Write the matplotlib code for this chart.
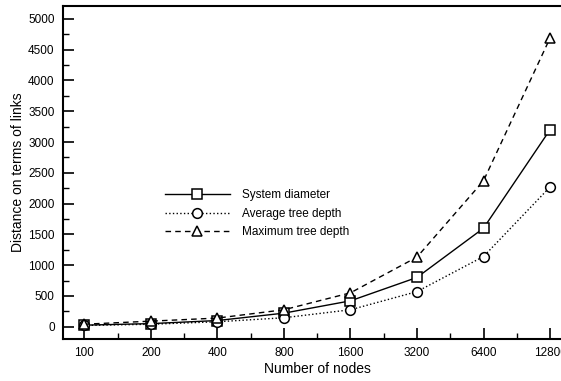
import matplotlib.pyplot as plt
from matplotlib.ticker import MultipleLocator

plt.rcParams['font.family'] = ['Liberation Sans', 'DejaVu Sans']

nodes = ['100', '200', '400', '800', '1600', '3200', '6400', '12800']
system_diameter = [25, 50, 100, 220, 420, 800, 1600, 3200]
avg_tree_depth = [20, 40, 80, 145, 275, 570, 1140, 2270]
max_tree_depth = [40, 90, 140, 275, 550, 1130, 2370, 4690]

fig = plt.figure(figsize=(5.61, 3.81), dpi=100)
ax = fig.add_axes([63 / 561, 42 / 381, (572 - 63) / 561, (339 - 6) / 381])

x = list(range(len(nodes)))
mk = dict(markersize=7, markerfacecolor='white', markeredgecolor='black',
          markeredgewidth=1.1, color='black', linewidth=1.0)
ax.plot(x, system_diameter, linestyle='-', marker='s', label='System diameter', **mk)
ax.plot(x, avg_tree_depth, linestyle=':', marker='o', label='Average tree depth', **mk)
ax.plot(x, max_tree_depth, linestyle=(0, (4, 3)), marker='^', label='Maximum tree depth', **mk)

ax.set_xlim(-0.32, 7.33)
ax.set_ylim(-200, 5210)
ax.set_xticks(x)
ax.set_xticklabels(nodes)
ax.xaxis.set_minor_locator(MultipleLocator(0.5))
ax.yaxis.set_major_locator(MultipleLocator(500))
ax.yaxis.set_minor_locator(MultipleLocator(250))
ax.tick_params(which='major', direction='in', length=8, width=1.2, labelsize=8.5, pad=6)
ax.tick_params(which='minor', direction='in', length=4, width=1.0)
ax.tick_params(top=False, right=False, which='both')
for s in ax.spines.values():
    s.set_linewidth(1.5)
ax.spines['right'].set_visible(False)

ax.set_xlabel('Number of nodes', fontsize=10, labelpad=2)
ax.set_ylabel('Distance on terms of links', fontsize=10, labelpad=2)

ax.legend(loc='upper left', bbox_to_anchor=(0.2, 0.45), frameon=False,
          fontsize=8.5, handlelength=5.5, handletextpad=1.0, labelspacing=0.55,
          borderpad=0, borderaxespad=0)

fig.savefig('out.png', dpi=100)
